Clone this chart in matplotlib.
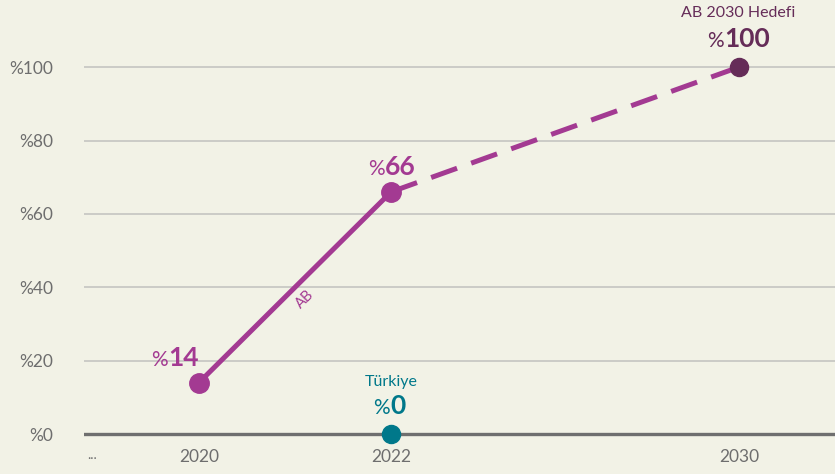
import matplotlib
matplotlib.use('Agg')
import matplotlib.pyplot as plt

plt.rcParams['font.family'] = ['Lato', 'DejaVu Sans']

# data
tick_labels = ['...', '2020', '2022', '2030']
x_pos = [0.11, 1.53, 4.09, 8.72]
ab_values = [14, 66]          # 2020, 2022 measured
target_value = 100            # 2030 goal
turkiye_value = 0             # 2022
y_ticks = [0, 20, 40, 60, 80, 100]

bg = '#f2f2e6'
purple = '#a33a92'
dark_purple = '#652c58'
teal = '#00788a'
grey_text = '#6e6e6e'

fig = plt.figure(figsize=(8.35, 4.74), dpi=100, facecolor=bg)
ax = fig.add_axes([84 / 835, 0, 751 / 835, 1])
ax.set_facecolor(bg)
ax.set_xlim(0, 10)
ax.set_ylim(-10.9, 118.3)

for s in ax.spines.values():
    s.set_visible(False)

# grid lines and zero line
for v in y_ticks[1:]:
    ax.axhline(v, color='#c9c9c4', lw=1.3, zorder=1)
ax.axhline(0, color='#6f6f6f', lw=2.4, zorder=2)

ax.set_yticks(y_ticks)
ax.set_yticklabels(['%' + str(v) for v in y_ticks])
ax.tick_params(axis='y', length=0, pad=22, labelsize=12.5, labelcolor=grey_text)
ax.set_xticks([])

# x labels below the zero line
for xp, lab in zip(x_pos, tick_labels):
    if lab == '...':
        ax.text(xp, -5.8, lab, ha='center', va='center', fontsize=10, color=grey_text)
    else:
        ax.text(xp, -6.2, lab, ha='center', va='center', fontsize=12.5, color=grey_text)

# AB line: solid measured part, dashed towards the target
ax.plot(x_pos[1:3], ab_values, color=purple, lw=3.6, solid_capstyle='butt', zorder=3)
ax.plot([x_pos[2], x_pos[3]], [ab_values[1], target_value], color=purple, lw=3.6,
        dashes=(5.5, 3), zorder=3)
ax.plot(x_pos[1:3], ab_values, 'o', color=purple, ms=14, zorder=4, clip_on=False)
ax.plot(x_pos[3], target_value, 'o', color=dark_purple, ms=13, zorder=4, clip_on=False)
ax.plot(x_pos[2], turkiye_value, 'o', color=teal, ms=13, zorder=4, clip_on=False)


def value_label(x, y, val, color, dx, dy):
    # "%" in regular weight, number in bold, meeting at the anchor
    kw = dict(textcoords='offset pixels', va='baseline', color=color)
    ax.annotate('%', (x, y), xytext=(dx, dy), ha='right', fontsize=15, **kw)
    ax.annotate(str(val), (x, y), xytext=(dx, dy), ha='left', fontsize=19,
                fontweight='bold', **kw)


value_label(x_pos[1], ab_values[0], ab_values[0], purple, -31, 17)
value_label(x_pos[2], ab_values[1], ab_values[1], purple, -6, 17)
value_label(x_pos[3], target_value, target_value, dark_purple, -15, 20)
value_label(x_pos[2], turkiye_value, turkiye_value, teal, -1, 20)

ax.annotate('AB 2030 Hedefi', (x_pos[3], target_value), xytext=(-1, 50),
            textcoords='offset pixels', ha='center', va='baseline',
            fontsize=11.5, color=dark_purple)
ax.annotate('Türkiye', (x_pos[2], turkiye_value), xytext=(0, 48),
            textcoords='offset pixels', ha='center', va='baseline',
            fontsize=11.5, color=teal)

# series name along the solid segment
mx = (x_pos[1] + x_pos[2]) / 2
my = (ab_values[0] + ab_values[1]) / 2
ax.annotate('AB', (mx, my), xytext=(10, -12), textcoords='offset pixels',
            ha='center', va='center', rotation=45, fontsize=10.5, color=purple)

fig.savefig('out.png', dpi=100, facecolor=bg)
